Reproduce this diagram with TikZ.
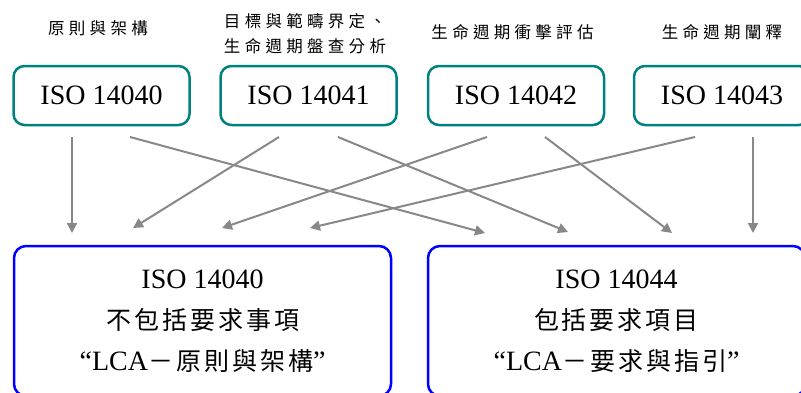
\documentclass[tikz,border=0pt]{standalone}
\usepackage{fontspec}
\setmainfont{Liberation Serif}
\newfontfamily\cjk[LetterSpace=12]{Noto Sans CJK TC}
\newfontfamily\cjklabel[LetterSpace=26]{Noto Sans CJK TC}
\usetikzlibrary{arrows.meta}
\definecolor{isoteal}{RGB}{0,128,128}
\definecolor{lcablue}{RGB}{0,0,255}
\definecolor{linkgray}{RGB}{136,136,136}
\tikzset{
  isobox/.style={draw=isoteal, line width=2.5pt, rounded corners=11pt,
    minimum width=176pt, minimum height=59pt, font=\fontsize{28}{30}\selectfont},
  lcabox/.style={draw=lcablue, line width=2.5pt, rounded corners=12pt,
    minimum width=377pt, minimum height=150pt, align=center,
    font=\fontsize{28}{41}\selectfont},
  topic/.style={align=center, font=\cjklabel\fontsize{16.5}{25}\selectfont},
  link/.style={linkgray, line width=2pt, -{Triangle[length=10pt,width=10pt]}}
}
\newcommand\zh[1]{{\cjk\fontsize{25}{41}\selectfont #1}}
\begin{document}
\begin{tikzpicture}[x=1pt,y=-1pt]
  \useasboundingbox (0,0) rectangle (801,392);
  % standards in the series
  \node [isobox] (iso40) at (101.5,95.5) {ISO 14040};
  \node [isobox] (iso41) at (308.5,95.5) {ISO 14041};
  \node [isobox] (iso42) at (516,95.5)   {ISO 14042};
  \node [isobox] (iso43) at (722,95.5)   {ISO 14043};
  \node [topic] (topic40) at (98,28)    {原則與架構};
  \node [topic] (topic41) at (305,33.5) {目標與範疇界定、\\生命週期盤查分析};
  \node [topic] (topic42) at (512.5,32) {生命週期衝擊評估};
  \node [topic] (topic43) at (722,32)   {生命週期闡釋};
  % new standards
  \node [lcabox] (new40) at (202.5,321)
    {ISO 14040\\\zh{不包括要求事項}\\“LCA\zh{－原則與架構}”};
  \node [lcabox] (new44) at (616.5,321)
    {ISO 14044\\\zh{包括要求項目}\\“LCA\zh{－要求與指引}”};
  % arrow ends
  \foreach \n/\x in {40a/72,40b/130,41a/279,41b/338,42a/487,42b/545,43a/695,43b/753}
    \coordinate (from\n) at (\x,137);
  \foreach \n/\x/\y in {40a/72/233,41a/133/228,42a/222/228,43a/310/228,
                        40b/485/233,41b/568/232,42b/672/233,43b/753/233}
    \coordinate (to\n) at (\x,\y);
  \foreach \n in {40a,40b,41a,41b,42a,42b,43a,43b}
    \draw [link] (from\n) -- (to\n);
\end{tikzpicture}
\end{document}
